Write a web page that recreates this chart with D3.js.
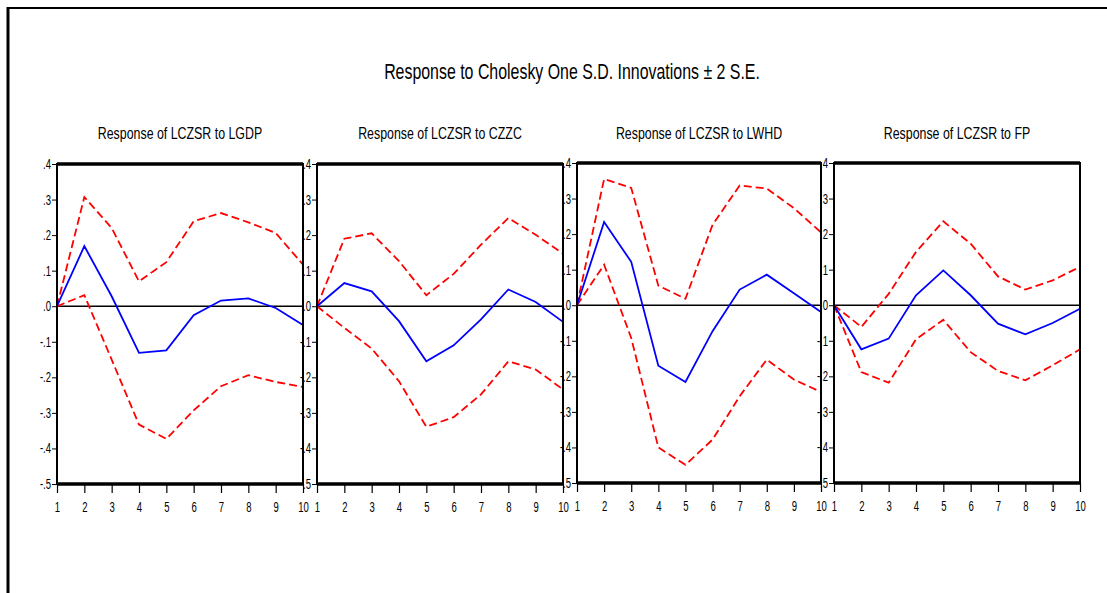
<!DOCTYPE html>
<html>
<head>
<meta charset="utf-8">
<script src="https://cdn.jsdelivr.net/npm/d3@7"></script>
<style>
  body { margin: 0; background: #fff; }
  svg text { font-family: "Liberation Sans", Arial, sans-serif; fill: #000; }
</style>
</head>
<body>
<svg id="chart" width="1107" height="593"></svg>
<script>
// periods on the x axis
const periods = [1, 2, 3, 4, 5, 6, 7, 8, 9, 10];
const yTicks = [0.4, 0.3, 0.2, 0.1, 0.0, -0.1, -0.2, -0.3, -0.4, -0.5];
const panelTitles = ["Response of LCZSR to LGDP", "Response of LCZSR to CZZC",
                     "Response of LCZSR to LWHD", "Response of LCZSR to FP"];

// impulse responses (blue) and +/- 2 S.E. bands (red dashed)
const respLGDP  = [0, 0.169, 0.028, -0.131, -0.124, -0.025, 0.016, 0.022, -0.005, -0.053];
const upperLGDP = [0, 0.307, 0.220, 0.070, 0.124, 0.239, 0.262, 0.236, 0.206, 0.117];
const lowerLGDP = [0, 0.031, -0.150, -0.333, -0.373, -0.293, -0.225, -0.194, -0.213, -0.227];

const respCZZC  = [0, 0.065, 0.042, -0.042, -0.155, -0.110, -0.037, 0.047, 0.012, -0.044];
const upperCZZC = [0, 0.190, 0.205, 0.127, 0.031, 0.091, 0.173, 0.248, 0.201, 0.148];
const lowerCZZC = [0, -0.061, -0.119, -0.211, -0.339, -0.312, -0.248, -0.155, -0.178, -0.234];

const respLWHD  = [0, 0.234, 0.122, -0.170, -0.216, -0.073, 0.044, 0.086, 0.034, -0.019];
const upperLWHD = [0, 0.355, 0.330, 0.055, 0.018, 0.226, 0.337, 0.328, 0.273, 0.205];
const lowerLWHD = [0, 0.114, -0.092, -0.400, -0.449, -0.378, -0.256, -0.153, -0.209, -0.244];

const respFP  = [0, -0.124, -0.094, 0.028, 0.098, 0.028, -0.052, -0.082, -0.050, -0.010];
const upperFP = [0, -0.061, 0.032, 0.150, 0.236, 0.173, 0.081, 0.044, 0.070, 0.108];
const lowerFP = [0, -0.188, -0.218, -0.096, -0.041, -0.132, -0.185, -0.211, -0.169, -0.124];

const panels = [
  {title: panelTitles[0], resp: respLGDP, up: upperLGDP, lo: lowerLGDP, x0: 57,  x1: 303,  y0: 164, y1: 484},
  {title: panelTitles[1], resp: respCZZC, up: upperCZZC, lo: lowerCZZC, x0: 317, x1: 563,  y0: 164, y1: 484},
  {title: panelTitles[2], resp: respLWHD, up: upperLWHD, lo: lowerLWHD, x0: 577, x1: 821,  y0: 163, y1: 483},
  {title: panelTitles[3], resp: respFP,   up: upperFP,   lo: lowerFP,   x0: 834, x1: 1080, y0: 163, y1: 483}
];

const svg = d3.select("#chart");

// squeeze text horizontally to imitate a narrow face
function narrow(sel, k) {
  sel.each(function() {
    const w = this.getComputedTextLength();
    d3.select(this).attr("textLength", w * k).attr("lengthAdjust", "spacingAndGlyphs");
  });
}

// outer frame (only top and left edges are visible)
svg.append("line").attr("x1", 8).attr("x2", 1107).attr("y1", 8).attr("y2", 8)
  .attr("stroke", "#000").attr("stroke-width", 2);
svg.append("line").attr("x1", 8).attr("x2", 8).attr("y1", 7).attr("y2", 593)
  .attr("stroke", "#000").attr("stroke-width", 3);

svg.append("text").attr("x", 572).attr("y", 79).attr("text-anchor", "middle")
  .style("font-size", "21.5px")
  .text("Response to Cholesky One S.D. Innovations \u00B1 2 S.E.")
  .call(narrow, 0.74);

const fmt = v => {
  const s = Math.abs(v).toFixed(1).replace(/^0/, "");
  return v < -1e-9 ? "-" + s : s;
};

panels.forEach(p => {
  const x = d3.scaleLinear().domain([1, 10]).range([p.x0, p.x1]);
  const y = d3.scaleLinear().domain([-0.5, 0.4]).range([p.y1, p.y0]);
  const g = svg.append("g");

  g.append("text").attr("x", (p.x0 + p.x1) / 2).attr("y", 139)
    .attr("text-anchor", "middle").style("font-size", "16.5px").text(p.title)
    .call(narrow, 0.75);

  // y axis
  const ya = g.append("g").attr("transform", `translate(${p.x0},0)`)
    .call(d3.axisLeft(y).tickValues(yTicks).tickSize(5).tickPadding(1).tickFormat(fmt));
  ya.select(".domain").remove();
  ya.selectAll("text").style("font-size", "14px").attr("font-family", null).call(narrow, 0.68);
  ya.selectAll("line").attr("stroke-width", 1);

  // x axis
  const xa = g.append("g").attr("transform", `translate(0,${p.y1})`)
    .call(d3.axisBottom(x).tickValues(periods).tickSize(9).tickPadding(9).tickFormat(d3.format("d")));
  xa.select(".domain").remove();
  xa.selectAll("text").style("font-size", "14px").attr("font-family", null).call(narrow, 0.68);
  xa.selectAll("line").attr("stroke-width", 1.2);

  // zero line
  g.append("line").attr("x1", p.x0).attr("x2", p.x1).attr("y1", y(0)).attr("y2", y(0))
    .attr("stroke", "#000").attr("stroke-width", 1.5);

  const line = d3.line().x((d, i) => x(periods[i])).y(d => y(d));
  [p.up, p.lo].forEach(arr => {
    g.append("path").attr("d", line(arr)).attr("fill", "none")
      .attr("stroke", "#ff0000").attr("stroke-width", 1.8).attr("stroke-dasharray", "8,4");
  });
  g.append("path").attr("d", line(p.resp)).attr("fill", "none")
    .attr("stroke", "#0000ff").attr("stroke-width", 1.8);

  // plot frame
  g.append("rect").attr("x", p.x0).attr("y", p.y0).attr("width", p.x1 - p.x0).attr("height", p.y1 - p.y0)
    .attr("fill", "none").attr("stroke", "#000").attr("stroke-width", 2);
  g.append("line").attr("x1", p.x0).attr("x2", p.x1).attr("y1", p.y0).attr("y2", p.y0)
    .attr("stroke", "#000").attr("stroke-width", 3.5);
  g.append("line").attr("x1", p.x0).attr("x2", p.x1).attr("y1", p.y1).attr("y2", p.y1)
    .attr("stroke", "#000").attr("stroke-width", 3.5);
});
</script>
</body>
</html>
